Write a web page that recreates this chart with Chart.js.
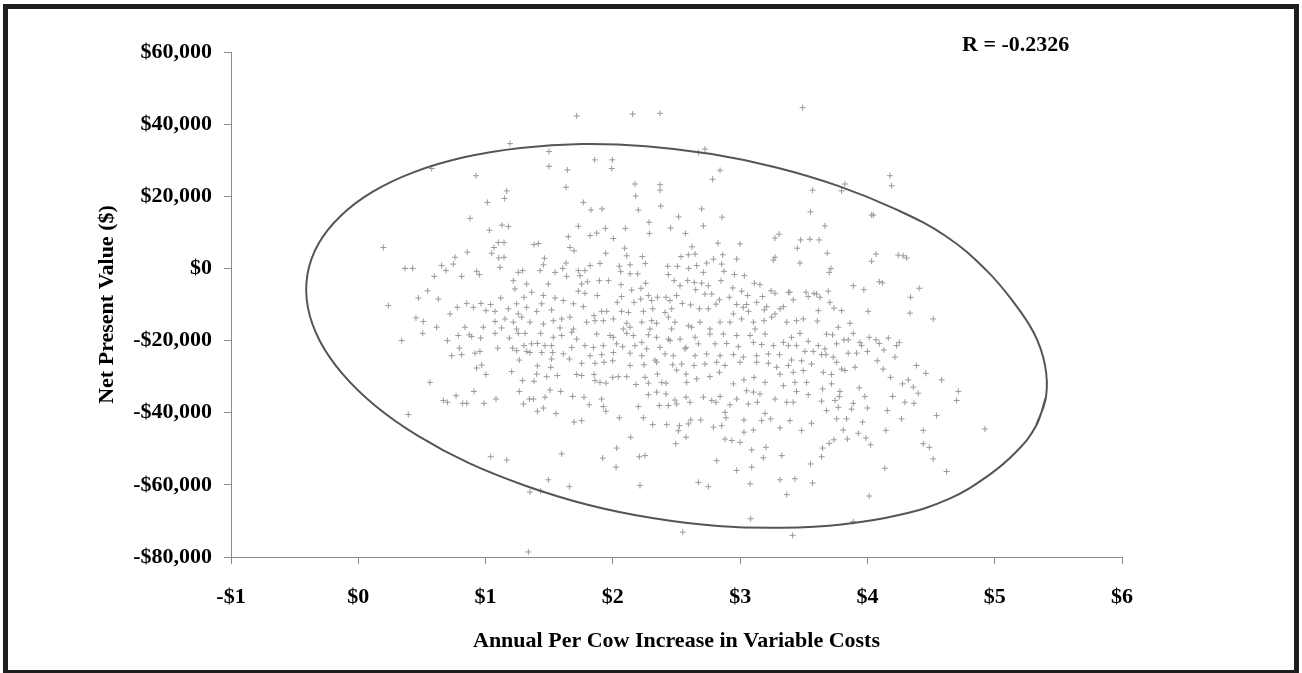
<!DOCTYPE html>
<html><head><meta charset="utf-8">
<script src="https://cdn.jsdelivr.net/npm/chart.js@4.4.1/dist/chart.umd.min.js"></script>
<style>
html,body{margin:0;padding:0;background:#fff;width:1302px;height:673px;overflow:hidden;}
#frame{position:absolute;left:3px;top:4px;width:1286px;height:661px;border:5px solid #1e1e1e;}
#wrap{position:absolute;left:0;top:0;width:1302px;height:673px;z-index:2;}
</style></head><body>
<div id="frame"></div>
<div id="wrap"><canvas id="c" width="1302" height="673"></canvas></div>
<script>
// ---- Data ----
const costIncrease = [
 1.716,1.192,1.498,1.498,1.642,1.632,0.577,0.925,1.166,1.150,
 1.014,0.878,1.030,1.129,1.179,1.729,1.650,0.197,1.100,1.145,
 1.066,1.380,1.415,1.663,1.695,0.857,0.760,1.048,1.103,1.145,
 1.462,0.747,0.655,0.689,0.367,0.427,1.113,1.454,1.632,1.606,
 0.597,0.812,0.930,0.951,1.257,1.291,1.428,1.546,1.637,1.729,
 1.218,1.323,1.493,0.545,1.231,1.362,0.472,0.629,1.119,1.302,
 1.454,1.546,1.611,1.690,1.729,0.236,0.778,0.852,0.904,0.964,
 1.003,1.040,1.074,1.179,1.244,1.257,1.323,1.402,1.441,1.519,
 0.721,0.453,0.511,1.074,1.153,1.218,1.284,1.349,1.454,1.532,
 1.598,1.663,0.616,0.838,0.982,1.126,1.244,1.585,1.690,
 0.341,0.506,0.700,0.786,0.872,0.891,0.962,1.074,1.187,1.257,
 1.310,1.433,1.532,1.598,1.677,1.716,0.794,0.734,0.812,0.917,
 0.956,1.095,1.213,1.244,1.302,1.323,1.349,1.362,1.407,1.441,
 1.467,1.519,1.527,1.611,1.658,1.677,1.519,1.265,0.930,0.969,
 1.003,1.205,1.407,1.402,1.480,1.512,1.564,1.716,0.563,1.291,
 1.380,0.909,1.265,1.506,1.590,0.768,0.668,0.700,0.820,0.852,
 0.988,1.082,1.297,1.344,1.375,1.467,1.684,1.407,1.454,1.553,
 1.695,0.393,1.040,1.166,1.598,1.493,1.658,1.349,1.433,1.336,
 2.156,2.371,1.857,1.996,1.991,2.672,2.724,2.842,2.784,2.174,
 2.371,2.371,2.179,1.768,1.828,1.915,2.200,2.376,2.698,2.858,
 2.517,2.284,2.711,1.941,2.098,1.873,1.821,2.004,2.287,2.454,
 2.570,3.274,3.306,2.999,2.826,2.622,2.093,1.944,2.109,2.232,
 2.536,2.593,2.646,2.790,2.863,2.973,3.261,3.274,1.899,1.821,
 2.051,2.135,2.255,2.431,2.507,2.596,2.659,2.737,2.855,1.781,
 2.062,2.135,2.195,2.436,2.711,2.873,2.955,3.033,1.742,1.800,
 1.894,1.965,2.064,2.258,2.481,2.588,2.640,2.698,2.750,2.850,
 3.112,3.156,3.243,1.755,1.781,1.878,2.148,2.221,2.528,2.651,
 2.942,3.012,2.069,2.279,2.350,2.418,2.501,2.724,2.777,2.915,
 3.059,3.175,3.274,1.768,2.035,2.166,2.219,2.305,2.449,2.546,
 2.611,2.680,2.750,2.810,2.837,2.973,3.051,3.130,3.209,3.340,
 3.379,1.852,1.912,1.952,2.069,2.122,2.240,2.313,2.410,2.462,
 2.947,3.025,3.065,3.190,3.274,3.313,1.794,1.860,1.925,2.004,
 2.109,2.227,2.305,2.344,2.436,2.488,2.593,2.685,2.842,2.920,
 3.012,3.104,3.188,3.248,3.366,2.082,2.135,2.292,2.462,2.619,
 2.763,3.117,
 1.873,1.978,2.004,2.109,2.161,2.227,2.279,2.344,2.436,2.528,
 2.646,2.763,2.868,2.973,3.078,3.196,3.340,1.781,1.847,1.925,
 2.030,2.077,2.174,2.266,2.371,2.449,2.575,2.672,2.803,2.894,
 2.986,3.104,3.169,3.261,3.379,1.821,1.912,2.004,2.135,2.227,
 2.331,2.410,2.475,2.567,2.646,2.737,2.842,2.947,3.025,3.130,
 3.222,3.309,1.755,1.860,1.930,1.999,2.135,2.245,2.344,2.470,
 2.541,2.638,2.724,2.816,2.881,2.999,3.130,3.222,3.287,3.379,
 1.755,1.852,1.999,2.043,2.109,2.253,2.350,2.418,2.501,2.575,
 2.659,2.763,2.837,2.947,3.030,3.109,3.196,3.313,3.340,1.860,
 1.899,1.946,2.182,2.279,2.384,2.580,3.051,3.104,3.156,1.773,
 1.912,2.279,2.344,2.418,2.488,2.575,2.711,2.777,2.842,2.973,
 3.274,3.366,1.815,1.925,2.200,2.365,2.436,2.501,2.606,2.810,
 2.920,3.065,3.135,1.946,2.881,3.196,1.755,2.051,2.240,2.612,
 2.690,2.889,3.030,3.169,3.240,2.313,2.423,2.523,2.593,2.790,
 2.855,3.104,3.313,2.515,3.030,2.140,2.575,2.881,2.934,3.000,
 2.494,2.030,3.091,3.203,1.920,2.208,2.253,2.816,3.182,3.327,
 2.025,2.973,3.091,2.213,2.672,2.750,3.078,3.313,3.366,3.083,2.549,
 3.491,4.177,4.190,3.823,3.797,3.569,3.553,4.033,4.046,3.666,
 3.475,3.548,3.621,3.449,3.684,4.067,4.033,4.242,4.281,4.308,
 3.470,3.713,3.700,4.093,4.119,3.889,3.972,4.407,3.391,3.517,
 3.580,3.601,3.692,3.417,3.535,3.627,3.705,4.339,3.737,3.797,
 3.614,4.006,4.334,4.517,3.443,3.496,3.606,3.863,3.771,
 3.470,3.679,3.726,3.889,3.404,3.535,3.443,3.614,3.758,3.815,
 3.849,3.941,4.014,4.067,4.093,4.164,4.229,4.250,3.509,3.574,
 3.666,3.674,3.849,3.915,3.954,4.000,4.129,3.404,3.483,3.561,
 3.640,3.731,3.758,4.216,4.077,3.417,3.496,3.653,3.718,3.797,
 3.823,3.902,4.124,4.386,4.459,3.430,3.522,3.718,4.182,4.276,
 4.321,4.583,3.443,3.535,3.648,3.784,3.936,4.360,4.399,4.714,
 3.417,3.640,3.745,3.779,3.889,3.980,4.198,4.294,4.365,4.701,
 3.679,3.771,3.876,3.999,4.156,3.758,3.836,3.962,4.268,4.543,
 3.561,3.391,3.483,3.810,4.145,4.439,4.923,3.737,3.842,3.928,
 3.988,4.025,3.700,3.648,4.439,4.486,3.640,4.517,3.553,4.137,
 4.622,3.430,3.569,4.014,3.889,3.412
];
const netPresentValue = [
 42300,34600,32400,28300,27300,22500,27700,25700,21500,19400,
 18300,13900,10600,12000,11600,11700,8800,5800,7200,7200,
 5800,6600,6900,5800,4900,4500,3100,4200,2900,3100,
 2800,1200,800,-600,0,0,300,1000,1500,0,
 -2200,-2200,-800,-1700,-1100,-600,-600,-1100,-2200,-600,
 -3400,-4300,-4300,-6200,-5700,-6600,-8200,-8500,-8200,-8000,
 -7500,-8200,-8900,-9800,-6300,-10300,-10800,-9700,-10800,-9700,
 -11700,-10000,-11900,-11200,-9800,-12600,-10800,-11900,-9800,-11500,
 -12600,-13700,-14700,-14700,-14000,-14900,-13500,-14900,-15400,-14500,
 -14000,-13500,-16300,-16300,-16300,-16500,-16800,-16500,-16800,
 -20000,-18000,-20000,-18600,-18400,-18900,-19300,-18000,-19300,-18000,
 -18000,-18000,-19100,-18600,-17700,-19600,-22100,-24200,-23900,-23500,
 -23000,-22100,-22100,-22800,-21400,-23000,-23300,-20900,-20800,-23300,
 -21400,-21400,-23300,-23700,-25100,-21900,-25100,-25400,-27600,-26800,
 -29400,-28600,-27000,-29300,-30000,-27400,-29700,-29400,-31600,-31100,
 -31300,-34100,-34100,-33700,-34100,-35300,-36600,-37100,-37400,-37400,
 -37400,-36200,-37600,-36200,-36200,-35700,-35500,-39600,-38700,-40200,
 -42600,-40500,-52200,-53100,-51400,-58600,-60500,-62000,-61700,-78600,
 42800,43000,30100,30100,27700,32100,33100,27200,24700,23400,
 23200,21700,20100,18300,16200,16500,16200,17300,16500,14200,
 14300,12800,11800,11100,11100,9800,9100,8300,9700,11200,
 9700,8400,9500,6800,7000,6000,5600,4200,3500,3300,
 3300,3800,4000,2600,3800,2600,2300,3100,1400,800,
 600,1000,1400,600,600,0,800,1500,1200,-600,
 -900,-1500,-1500,-1700,-1100,-800,-1700,-2000,-2000,-3700,
 -3400,-3400,-4500,-4100,-3400,-3400,-3900,-4100,-4800,-3400,
 -4100,-4500,-6200,-4300,-6900,-7500,-6000,-5500,-4800,-5900,
 -5400,-6300,-7800,-7500,-8000,-8000,-7500,-7100,-7100,-8000,
 -7500,-7800,-6900,-10600,-9400,-9400,-8500,-8900,-8900,-9700,
 -10100,-11200,-11200,-9900,-8700,-10000,-10000,-9400,-10600,-10600,
 -6600,-13100,-11900,-11900,-11900,-12200,-11900,-11200,-12200,-11200,
 -12600,-10800,-11900,-11500,-12600,-11200,-14900,-14500,-14500,-14000,
 -15200,-14900,-14500,-15200,-13500,-14900,-15900,-14900,-14900,-14900,
 -14000,-14900,-14500,-13500,-14900,-16800,-16300,-16800,-16800,-16300,
 -16800,-16800,
 -18200,-18600,-19100,-18000,-18600,-20500,-18400,-19100,-19600,-19600,
 -19100,-18200,-18200,-18600,-18600,-18200,-20500,-21400,-21900,-21400,
 -20900,-21700,-21400,-22300,-21900,-20000,-21900,-20900,-20900,-20800,
 -21700,-20500,-21100,-21400,-21400,-24200,-23900,-23300,-23500,-24200,
 -25400,-23700,-24200,-22300,-24200,-23700,-24200,-23900,-24600,-24200,
 -23700,-23900,-26300,-26300,-26000,-25600,-26900,-26700,-26000,-26700,
 -26500,-26900,-26500,-26000,-26900,-26000,-26000,-26300,-27400,-26900,
 -29700,-29400,-30200,-30000,-30000,-30200,-29300,-31800,-28200,-29300,
 -30600,-30000,-28800,-32000,-30900,-30200,-31600,-29300,-32500,-31100,
 -31600,-31800,-32200,-31800,-31600,-31600,-33900,-34300,-34800,-35700,
 -36200,-35000,-34300,-34800,-36500,-35700,-35700,-36600,-35500,-36200,
 -36200,-37100,-37800,-38300,-38300,-38000,-38000,-37600,-37100,-37100,
 -37800,-37600,-37100,-39600,-39900,-40200,-42200,-41400,-41400,-42000,
 -42000,-41400,-42000,-42200,-41700,-43300,-43300,-43600,-43100,-44000,
 -43600,-44800,-44200,-45000,-45400,-46800,-46800,-47300,-47700,-48200,
 -48600,-49800,-50300,-49600,-52600,-52200,-51900,-53300,-52500,-51900,
 -55100,-56000,-55100,-60200,-59300,-60500,-59700,-58600,-62700,-69400,-73100,
 44600,25700,22900,23400,21500,21700,15700,14800,14800,11800,
 7900,8100,7900,5600,4200,4000,2000,3700,3500,2900,
 1500,0,-1100,-3700,-4000,-4800,-5900,-5500,-6600,-6600,
 -6900,-7100,-6300,-8700,-7800,-8000,-9400,-8000,-11000,-11700,
 -11700,-11900,-12400,-14000,-14500,-14000,-14600,-15200,-16300,
 -18000,-18200,-18400,-18000,-19100,-20200,-21400,-21400,-20900,-19800,
 -19800,-20500,-19100,-19800,-20800,-19300,-21400,-20500,-23000,-23000,
 -22300,-23900,-23500,-23500,-21400,-23000,-22600,-25400,-25600,-26500,
 -23900,-24600,-26000,-24600,-25600,-28800,-28300,-28800,-29400,-27900,
 -28300,-27400,-27900,-26900,-29100,-31600,-31600,-32000,-30200,-32000,
 -30900,-30900,-34100,-35000,-33400,-34100,-33100,-32900,-34600,-34100,
 -37100,-36800,-36600,-35500,-37400,-35500,-35500,-37100,-37400,-36600,
 -39400,-38500,-39000,-38700,-39400,-41700,-41700,-42600,-41700,-40800,
 -42900,-42200,-44900,-44800,-44900,-44900,-44500,-47500,-47300,-45700,
 -47000,-48900,-48500,-49800,-48600,-49600,-52200,-52800,-54200,-55400,
 -56300,-58300,-59500,-63100,-70200,-74000
];
// Outline of the drawn ellipse (starts on the right side, goes round, overlaps at the end)
const ellipseX = [5.403,5.324,5.167,4.947,4.641,4.256,3.813,3.331,2.824,2.310,
 1.802,1.318,0.870,0.473,0.138,-0.122,-0.302,-0.396,-0.400,-0.315,
 -0.143,0.111,0.438,0.830,1.274,1.756,2.262,2.776,3.284,3.769,
 4.216,4.614,4.931,5.136,5.308,5.395,5.403,5.324];
const ellipseY = [-35600,-43700,-50900,-57500,-63900,-68300,-70900,-71900,-71400,-69200,
 -65500,-60300,-54000,-46500,-38200,-29300,-20100,-10800,-1800,6700,
 14400,21200,26700,30800,33400,34500,33900,31700,28000,22900,
 16500,9000,-400,-8800,-17900,-26800,-35600,-43700];
const xTickValues = [-1,0,1,2,3,4,5,6];
const xTickLabels = ['-$1','$0','$1','$2','$3','$4','$5','$6'];
const yTickValues = [-80000,-60000,-40000,-20000,0,20000,40000,60000];
const yTickLabels = ['-$80,000','-$60,000','-$40,000','-$20,000','$0','$20,000','$40,000','$60,000'];
const rLabel = 'R = -0.2326';
const xTitle = 'Annual Per Cow Increase in Variable Costs';
const yTitle = 'Net Present Value ($)';

const FONT = '"Liberation Serif", "Times New Roman", serif';
const scatterPts = costIncrease.map((x,i)=>({x:x,y:netPresentValue[i]}));
const ellipsePts = ellipseX.map((x,i)=>({x:x,y:ellipseY[i]}));

const rPlugin = {
  id:'rlabel',
  afterDraw(chart){
    const ctx = chart.ctx;
    ctx.save();
    ctx.font = 'bold 22px ' + FONT;
    ctx.fillStyle = '#000';
    ctx.textAlign = 'left';
    ctx.textBaseline = 'alphabetic';
    ctx.fillText(rLabel, 962, 51);
    ctx.restore();
  }
};

const axisGray = '#8c8c8c';
new Chart(document.getElementById('c'), {
  type:'scatter',
  data:{datasets:[
    {label:'ellipse', data:ellipsePts, showLine:true, borderColor:'#555555', borderWidth:2,
     pointRadius:0, pointHoverRadius:0, tension:0.4, fill:false, order:0},
    {label:'NPV', data:scatterPts, pointStyle:'cross', pointRadius:3, pointHoverRadius:3,
     borderColor:'#999999', backgroundColor:'#999999', borderWidth:1, showLine:false, order:1}
  ]},
  options:{
    responsive:false, animation:false, devicePixelRatio:1,
    events:[],
    layout:{padding:{left:0, top:52, right:180, bottom:0}},
    plugins:{legend:{display:false}, tooltip:{enabled:false}},
    scales:{
      x:{type:'linear', min:-1, max:6,
        afterFit(s){ s.height = 116; },
        afterBuildTicks(s){ s.ticks = xTickValues.map(v=>({value:v})); },
        border:{display:true, color:axisGray, width:1},
        grid:{drawOnChartArea:false, drawTicks:true, tickLength:7, color:axisGray, tickColor:axisGray},
        ticks:{padding:20, color:'#000', maxRotation:0, autoSkip:false,
          font:{family:FONT, size:22, weight:'bold'},
          callback:(v)=> xTickLabels[xTickValues.indexOf(v)]},
        title:{display:true, text:xTitle, color:'#000',
          font:{family:FONT, size:22, weight:'bold'}, padding:{top:0, bottom:18}}
      },
      y:{type:'linear', min:-80000, max:60000,
        afterFit(s){ s.width = 231; },
        afterBuildTicks(s){ s.ticks = yTickValues.map(v=>({value:v})); },
        border:{display:true, color:axisGray, width:1},
        grid:{drawOnChartArea:false, drawTicks:true, tickLength:7, color:axisGray, tickColor:axisGray},
        ticks:{padding:12, color:'#000', autoSkip:false,
          font:{family:FONT, size:22, weight:'bold'},
          callback:(v)=> yTickLabels[yTickValues.indexOf(v)]},
        title:{display:true, text:yTitle, color:'#000',
          font:{family:FONT, size:22, weight:'bold'}, padding:{top:94, bottom:0}}
      }
    }
  },
  plugins:[rPlugin]
});
</script>
</body></html>
